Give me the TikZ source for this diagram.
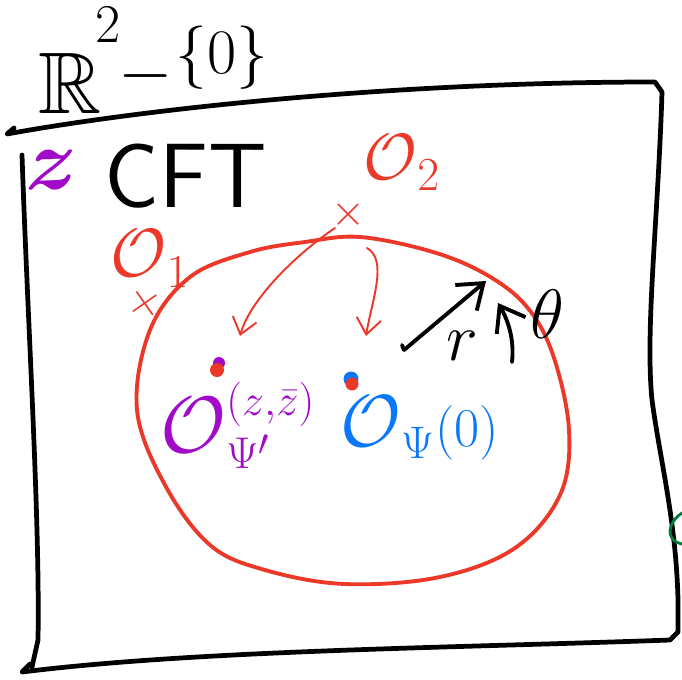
\documentclass[tikz,border=0pt]{standalone}
\usepackage{amsmath,amssymb,bm,graphicx}
\usetikzlibrary{arrows.meta}
\definecolor{myred}{RGB}{236,56,40}
\definecolor{mypurple}{RGB}{160,10,200}
\definecolor{myblue}{RGB}{10,120,250}
\definecolor{mygreen}{RGB}{0,125,60}
\newcommand{\bigO}[1]{\text{\scalebox{#1}{$\mathcal{O}$}}}
\tikzset{
  frame/.style={line width=2.7pt, line cap=round, line join=round, black},
  redline/.style={line width=2.2pt, myred, line cap=round},
  redarrow/.style={line width=1.1pt, myred, line cap=round, -{Straight Barb[length=9pt,width=14pt,line width=1.1pt]}},
  blackarrow/.style={line width=2.2pt, black, line cap=round, -{Straight Barb[length=13pt,width=19pt,line width=2.2pt]}},
  hugetxt/.style={inner sep=0pt, font=\Huge},
}
\begin{document}
\begin{tikzpicture}[x=0.02cm,y=-0.02cm]
\useasboundingbox (0,0) rectangle (682,679);
% frame
\draw[frame] (14,128) -- (7,134) .. controls (150,108) and (400,82) .. (655,82) -- (662,92)
  .. controls (658,220) and (645,330) .. (652,400)
  .. controls (660,460) and (676,520) .. (678,600) -- (678,632) -- (670,640)
  .. controls (450,648) and (200,650) .. (22,672) -- (30,664);
\draw[frame] (22,155) .. controls (28,330) and (40,520) .. (38,640) -- (32,667);
% title  R^2 - {0}
\node[hugetxt, scale=2, anchor=base] (tR) at (70,113) {$\mathbb{R}$};
\node[hugetxt, scale=1.25] (t2) at (108,25) {$2$};
\node[hugetxt, scale=1.6] (tminus) at (146,76) {$-$};
\node[hugetxt, scale=1.45] (t0) at (222,58) {$\{0\}$};
% labels
\node[hugetxt, scale=2, text=mypurple] (z) at (52,170) {$\bm{z}$};
\node[inner sep=0pt, font=\fontsize{52}{56}\sffamily] (cft) at (186,176) {CFT};
\node[hugetxt, scale=1.3, text=myred] (o1) at (150,259) {$\bigO{1.2}_{1}$};
\node[hugetxt, scale=1.3, text=myred] (o2) at (402,163) {$\bigO{1.15}_{2}$};
% markers
\node[inner sep=0pt, font=\fontsize{30}{34}\selectfont, text=myred, rotate=-10] (x1) at (145,304) {$\times$};
\node[inner sep=0pt, font=\fontsize{24}{28}\selectfont, text=myred] (x2) at (348,215) {$\times$};
% red circle
\draw[redline] plot[smooth cycle, tension=0.6] coordinates {(360,237) (433,252) (487,275) (527,307) (553,355) (569,430) (560,495) (515,548) (440,577) (345,584) (265,570) (210,545) (165,485) (137,410) (150,330) (190,277) (250,252) (305,242)};
% dots
\fill[mypurple] (219,363) circle (6);
\fill[myred] (217,370) circle (7);
\fill[myblue] (351,379) circle (7.5);
\fill[myred] (352,384) circle (6.5);
\node[inner sep=0pt] (p1) at (218,368) {};
\node[inner sep=0pt] (p0) at (352,383) {};
% operators
\node[hugetxt, scale=1.22, text=mypurple, anchor=west] (opsi1) at (160,425) {$\bigO{1.5}_{\Psi'}^{(z,\bar z)}$};
\node[hugetxt, scale=1.25, text=myblue, anchor=west] (opsi) at (340,428) {$\bigO{1.35}_{\Psi}(0)$};
% red arrows
\coordinate (a1s) at (335,228);
\coordinate (a1e) at (240,336);
\coordinate (a2s) at (367,248);
\coordinate (a2e) at (366,336);
\draw[redarrow] (a1s) .. controls (295,255) and (250,300) .. (a1e);
\draw[redarrow] (a2s) .. controls (388,260) and (372,300) .. (a2e);
% r and theta
\coordinate (rs) at (404,350);
\coordinate (re) at (486,281);
\draw[blackarrow] (rs) -- (re);
\draw[line width=2.2pt, line cap=round] (rs) -- (402,345);
\node[hugetxt, scale=1.55] (r) at (462,346) {$r$};
\coordinate (ts) at (512,362);
\coordinate (te) at (498,303);
\draw[blackarrow] (ts) .. controls (515,335) and (505,315) .. (te);
\node[hugetxt, scale=1.6] (theta) at (547,314) {$\theta$};
% green fragment
\draw[mygreen, line width=1.6pt, line cap=round] (682,513) .. controls (668,522) and (664,540) .. (682,544);
\end{tikzpicture}
\end{document}
